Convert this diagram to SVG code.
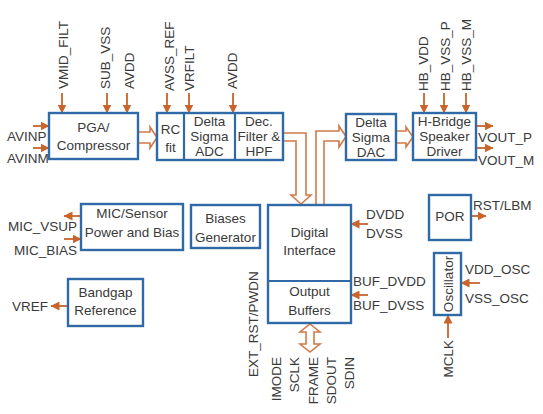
<svg xmlns="http://www.w3.org/2000/svg" width="543" height="414" viewBox="0 0 543 414">
<defs>
<style>
text{font-family:"Liberation Sans",Arial,sans-serif;font-size:13.5px;fill:#3a3a3a}
.c{text-anchor:middle}
.e{text-anchor:end}
.box{fill:#ffffff;stroke:#2f6aa6;stroke-width:2.4}
.div{stroke:#2f6aa6;stroke-width:2.2}
.pin{stroke:#c8642c;stroke-width:1.8;fill:none}
.bus{fill:#ffffff;stroke:#d07a48;stroke-width:1.6;stroke-linejoin:miter}
</style>
<marker id="ah" markerUnits="userSpaceOnUse" markerWidth="9" markerHeight="9" refX="8.5" refY="4.5" orient="auto">
<path d="M0,0 L9,4.5 L0,9 z" fill="#c8642c"/>
</marker>
</defs>
<rect width="543" height="414" fill="#ffffff"/>

<g id="connectors">
<!-- hollow bus arrows -->
<path class="bus" d="M138,132 H150 V127 L157,137.5 L150,148 V143 H138"/>
<path class="bus" d="M396,131 H406 V127 L413,137 L406,147 V143 H396"/>
<path class="bus" d="M283,133 H306 V195 H311 L301,204 L291,195 H296 V141 H283"/>
<path class="bus" d="M316,205 V131 H339 V126 L346,136.5 L339,147 V141 H324 V205"/>
<path class="bus" d="M310,324 L320,332 H314 V344 H320 L310,352 L300,344 H306 V332 H300 Z"/>
<!-- top pins -->
<line class="pin" x1="62" y1="93" x2="62" y2="113" marker-end="url(#ah)"/>
<line class="pin" x1="107" y1="93" x2="107" y2="113" marker-end="url(#ah)"/>
<line class="pin" x1="127" y1="93" x2="127" y2="113" marker-end="url(#ah)"/>
<line class="pin" x1="167" y1="93" x2="167" y2="113" marker-end="url(#ah)"/>
<line class="pin" x1="189" y1="93" x2="189" y2="113" marker-end="url(#ah)"/>
<line class="pin" x1="233" y1="93" x2="233" y2="113" marker-end="url(#ah)"/>
<line class="pin" x1="424" y1="93" x2="424" y2="113" marker-end="url(#ah)"/>
<line class="pin" x1="444" y1="93" x2="444" y2="113" marker-end="url(#ah)"/>
<line class="pin" x1="466" y1="93" x2="466" y2="113" marker-end="url(#ah)"/>
<!-- side pins -->
<line class="pin" x1="33" y1="126" x2="49" y2="126" marker-end="url(#ah)"/>
<line class="pin" x1="33" y1="148" x2="49" y2="148" marker-end="url(#ah)"/>
<line class="pin" x1="476" y1="126" x2="493" y2="126" marker-end="url(#ah)"/>
<line class="pin" x1="476" y1="148" x2="493" y2="148" marker-end="url(#ah)"/>
<line class="pin" x1="81" y1="216" x2="64" y2="216" marker-end="url(#ah)"/>
<line class="pin" x1="64" y1="239" x2="81" y2="239" marker-end="url(#ah)"/>
<line class="pin" x1="68" y1="306" x2="51" y2="306" marker-end="url(#ah)"/>
<line class="pin" x1="368" y1="224" x2="351" y2="224" marker-end="url(#ah)"/>
<line class="pin" x1="368" y1="295" x2="351" y2="295" marker-end="url(#ah)"/>
<line class="pin" x1="471" y1="216" x2="486" y2="216" marker-end="url(#ah)"/>
<line class="pin" x1="480" y1="283" x2="461" y2="283" marker-end="url(#ah)"/>
<line class="pin" x1="448" y1="338" x2="448" y2="315" marker-end="url(#ah)"/>
</g>

<g id="pin-labels">
<text transform="translate(68,89) rotate(-90)">VMID_FILT</text>
<text transform="translate(110,89) rotate(-90)">SUB_VSS</text>
<text transform="translate(134,89) rotate(-90)">AVDD</text>
<text transform="translate(174,91) rotate(-90)">AVSS_REF</text>
<text transform="translate(194,91) rotate(-90)">VRFILT</text>
<text transform="translate(237,89) rotate(-90)">AVDD</text>
<text transform="translate(428,91) rotate(-90)">HB_VDD</text>
<text transform="translate(450,91) rotate(-90)">HB_VSS_P</text>
<text transform="translate(471,91) rotate(-90)">HB_VSS_M</text>
<text x="7" y="141">AVINP</text>
<text x="7" y="163">AVINM</text>
<text x="478" y="142">VOUT_P</text>
<text x="478" y="165">VOUT_M</text>
<text class="e" x="77" y="231">MIC_VSUP</text>
<text class="e" x="77" y="255">MIC_BIAS</text>
<text class="e" x="48" y="311">VREF</text>
<text x="366" y="219">DVDD</text>
<text x="366" y="238">DVSS</text>
<text x="353" y="286">BUF_DVDD</text>
<text x="353" y="310">BUF_DVSS</text>
<text x="473" y="210">RST/LBM</text>
<text x="465" y="274">VDD_OSC</text>
<text x="465" y="303">VSS_OSC</text>
<text class="e" transform="translate(453,340) rotate(-90)">MCLK</text>
<text transform="translate(258,377) rotate(-90)">EXT_RST/PWDN</text>
<text class="e" transform="translate(281,357) rotate(-90)">IMODE</text>
<text class="e" transform="translate(299,357) rotate(-90)">SCLK</text>
<text class="e" transform="translate(317.5,357) rotate(-90)">FRAME</text>
<text class="e" transform="translate(336,357) rotate(-90)">SDOUT</text>
<text class="e" transform="translate(354,357) rotate(-90)">SDIN</text>
</g>

<g id="pga">
<rect class="box" x="49" y="113" width="89" height="46"/>
<text class="c" x="93.5" y="132">PGA/</text>
<text class="c" x="93.5" y="150">Compressor</text>
</g>

<g id="adc-chain">
<rect class="box" x="157" y="113" width="126" height="47"/>
<line class="div" x1="184" y1="113" x2="184" y2="160"/>
<line class="div" x1="235" y1="113" x2="235" y2="160"/>
</g>
<g id="rcfit">
<text class="c" x="170.5" y="134">RC</text>
<text class="c" x="170.5" y="152">fit</text>
</g>
<g id="adc">
<text class="c" x="209.5" y="126">Delta</text>
<text class="c" x="209.5" y="141">Sigma</text>
<text class="c" x="209.5" y="156">ADC</text>
</g>
<g id="decfilter">
<text class="c" x="259" y="126">Dec.</text>
<text class="c" x="259" y="141">Filter &amp;</text>
<text class="c" x="259" y="156">HPF</text>
</g>

<g id="dac">
<rect class="box" x="346" y="114" width="50" height="46"/>
<text class="c" x="371" y="127">Delta</text>
<text class="c" x="371" y="142">Sigma</text>
<text class="c" x="371" y="157">DAC</text>
</g>

<g id="hbridge">
<rect class="box" x="413" y="113" width="63" height="47"/>
<text class="c" x="444.5" y="126">H-Bridge</text>
<text class="c" x="444.5" y="141">Speaker</text>
<text class="c" x="444.5" y="156">Driver</text>
</g>

<g id="mic">
<rect class="box" x="81" y="204" width="102" height="46"/>
<text class="c" x="132" y="218">MIC/Sensor</text>
<text class="c" x="132" y="237">Power and Bias</text>
</g>

<g id="biases">
<rect class="box" x="191" y="205" width="69" height="43"/>
<text class="c" x="225.5" y="223">Biases</text>
<text class="c" x="225.5" y="242">Generator</text>
</g>

<g id="bandgap">
<rect class="box" x="68" y="279" width="75" height="47"/>
<text class="c" x="105.5" y="297">Bandgap</text>
<text class="c" x="105.5" y="315">Reference</text>
</g>

<g id="digital">
<rect class="box" x="268" y="205" width="83" height="118"/>
<line class="div" x1="268" y1="281" x2="351" y2="281"/>
<text class="c" x="309.5" y="237">Digital</text>
<text class="c" x="309.5" y="255">Interface</text>
</g>
<g id="outbuf">
<text class="c" x="309.5" y="296">Output</text>
<text class="c" x="309.5" y="315">Buffers</text>
</g>

<g id="por">
<rect class="box" x="429" y="195" width="42" height="45"/>
<text class="c" x="450" y="221">POR</text>
</g>

<g id="osc">
<rect class="box" x="434" y="253" width="27" height="62"/>
<text class="c" transform="translate(452.5,284) rotate(-90)">Oscillator</text>
</g>
</svg>
